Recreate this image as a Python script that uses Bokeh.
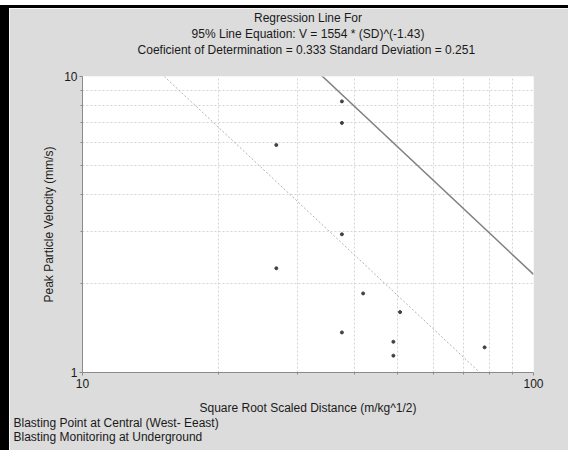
import numpy as np
from bokeh.plotting import figure
from bokeh.models import FixedTicker, Range1d, Title, PrintfTickFormatter, Spacer
from bokeh.layouts import column, row
from bokeh.embed import file_html
from bokeh.resources import INLINE

# data points (scaled distance, PPV)
sd = [37.6, 37.6, 26.9, 37.6, 26.9, 41.9, 50.6, 37.6, 48.9, 48.9, 77.9]
ppv = [8.24, 6.97, 5.87, 2.93, 2.25, 1.85, 1.60, 1.366, 1.27, 1.14, 1.216]

# regression equation constants
k95 = 1554.0
b = -1.43
std_dev = 0.251
line_sd = [10.0, 100.0]

x_major = [10, 100]
x_minor = [20, 30, 40, 50, 60, 70, 80, 90]
y_major = [1, 10]
y_minor = [2, 3, 4, 5, 6, 7, 8, 9]

title_lines = ["Regression Line For",
               "95% Line Equation: V = 1554 * (SD)^(-1.43)",
               "Coeficient of Determination = 0.333  Standard Deviation = 0.251"]
notes = ["Blasting Point at Central (West- Eeast)",
         "Blasting Monitoring at Underground"]
xlabel = "Square Root Scaled Distance (m/kg^1/2)"
ylabel = "Peak Particle Velocity (mm/s)"

FONT = "Liberation Sans"
BG = "#dcdcdc"
TXT = "#1a1a1a"

p = figure(width=559, height=442, x_axis_type="log", y_axis_type="log",
           x_range=Range1d(10, 100), y_range=Range1d(1, 10),
           output_backend="svg", toolbar_location=None,
           background_fill_color="white", border_fill_color=BG,
           min_border_left=73, min_border_right=35,
           min_border_top=66, min_border_bottom=78)
p.outline_line_color = None

# lines
k_mean = k95 / 10 ** (2 * std_dev)
x_line = np.array(line_sd)
p.line(x_line, k95 * x_line ** b, line_color="#808080", line_width=1.5)
p.line(x_line, k_mean * x_line ** b, line_color="#b0b0b0", line_width=1,
       line_dash="2 2")

# points
p.scatter(sd, ppv, size=3, color="#404040")

for ax, lab in ((p.xaxis, xlabel), (p.yaxis, ylabel)):
    ax.axis_label = lab
    ax.axis_label_text_font = FONT
    ax.axis_label_text_font_size = "12px"
    ax.axis_label_text_font_style = "normal"
    ax.axis_label_text_color = TXT
    ax.major_label_text_font = FONT
    ax.major_label_text_font_size = "12px"
    ax.major_label_text_color = TXT
    ax.axis_line_color = "#8a8a8a"
    ax.major_tick_line_color = "#8a8a8a"
    ax.minor_tick_line_color = "#8a8a8a"
    ax.major_tick_out = 3
    ax.major_tick_in = 0
    ax.minor_tick_out = 2
    ax.minor_tick_in = 0
    ax.formatter = PrintfTickFormatter(format="%d")

p.xaxis.ticker = FixedTicker(ticks=x_major, minor_ticks=x_minor)
p.yaxis.ticker = FixedTicker(ticks=y_major, minor_ticks=y_minor)
p.xaxis.major_label_standoff = 3
p.yaxis.major_label_standoff = 2
p.xaxis.axis_label_standoff = 10
p.yaxis.axis_label_standoff = 5

for g in (p.xgrid, p.ygrid):
    g.grid_line_color = None
    g.minor_grid_line_color = "#d4d4d4"
    g.minor_grid_line_dash = "2 2"
    g.minor_grid_line_width = 1

# spacer title between the plot frame and the title lines
p.add_layout(Title(text=" ", text_font_size="1px", standoff=17), "above")
# title lines: first added is closest to the plot
for t in reversed(title_lines):
    p.add_layout(Title(text=t, align="center", text_font=FONT,
                       text_font_size="12px", text_font_style="normal",
                       text_color=TXT, standoff=0), "above")

p.add_layout(Title(text="\n".join(notes), align="left", offset=-69,
                   text_font=FONT, text_font_size="12px",
                   text_font_style="normal", text_color=TXT,
                   vertical_align="top", standoff=-4), "below")

top_white = Spacer(width=568, height=5, styles={"background-color": "white"})
top_black = Spacer(width=568, height=3, styles={"background-color": "black"})
left_black = Spacer(width=9, height=442, styles={"background-color": "black"})
page = column(top_white, top_black, row(left_black, p, spacing=0), spacing=0)

open("out.html", "w").write(file_html(page, INLINE))
